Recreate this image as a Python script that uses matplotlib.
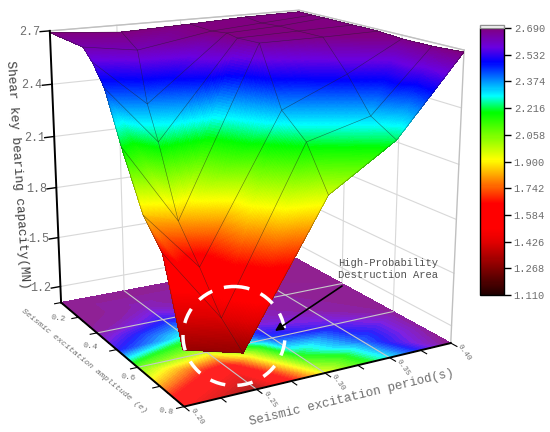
import numpy as np
import matplotlib
matplotlib.use('Agg')
import matplotlib.pyplot as plt
from matplotlib.colors import LinearSegmentedColormap, Normalize
from matplotlib.cm import ScalarMappable
from matplotlib.patches import Ellipse, Rectangle
from matplotlib.tri import Triangulation, UniformTriRefiner, LinearTriInterpolator
from mpl_toolkits.mplot3d import proj3d

# Floor contour map
periods = [0.20, 0.25, 0.30, 0.35, 0.40]
amplitudes = [0.2, 0.3, 0.4, 0.5, 0.6, 0.7, 0.8]
floor_capacity = [
    [2.69, 2.69, 2.69, 2.69, 2.69],
    [2.69, 2.64, 2.68, 2.69, 2.69],
    [2.66, 2.50, 2.65, 2.67, 2.69],
    [2.50, 2.28, 2.60, 2.66, 2.68],
    [2.08, 1.95, 2.45, 2.54, 2.67],
    [1.80, 1.50, 2.18, 2.42, 2.66],
    [1.50, 1.30, 1.92, 2.29, 2.69],
]

# Surface mesh nodes
surf_period = [
    [.211, .242, .321, .366, .400],
    [.228, .239, .315, .358, .400],
    [.217, .244, .309, .357, .400],
    [.210, .237, .317, .357, .400],
    [.213, .232, .306, .352, .400],
    [.213, .234, .305, .352, .400],
    [.212, .243, .300, .348, .400],
    [.200, .244, .301, .352, .400],
]
surf_amp = [
    [.731, .792, .704, .734, .800],
    [.543, .725, .650, .679, .700],
    [.529, .608, .586, .598, .600],
    [.482, .561, .455, .506, .516],
    [.385, .509, .423, .433, .422],
    [.327, .449, .383, .357, .309],
    [.288, .349, .345, .302, .257],
    [.200, .265, .239, .209, .200],
]
surf_capacity = [
    [1.308, 1.300, 1.959, 2.225, 2.690],
    [1.640, 1.427, 2.216, 2.331, 2.680],
    [1.852, 1.594, 2.357, 2.518, 2.680],
    [2.194, 1.818, 2.655, 2.681, 2.690],
    [2.457, 2.216, 2.677, 2.690, 2.690],
    [2.571, 2.385, 2.690, 2.690, 2.690],
    [2.637, 2.624, 2.690, 2.690, 2.690],
    [2.690, 2.690, 2.690, 2.690, 2.690],
]
z_ticks = [1.2, 1.5, 1.8, 2.1, 2.4, 2.7]
amp_ticks = [0.2, 0.4, 0.6, 0.8]
cbar_ticks = [1.110, 1.268, 1.426, 1.584, 1.742, 1.900, 2.058, 2.216, 2.374, 2.532, 2.690]

zmin, zmax = 1.11, 2.69
stops = [(1.11, '#200000'), (1.42, '#e00000'), (1.50, '#ff0000'), (1.65, '#ff0000'), (1.78, '#ff8000'),
         (1.91, '#ffff00'), (2.19, '#00ff00'), (2.29, '#00ffff'), (2.49, '#0000ff'), (2.58, '#6a00e0'),
         (2.69, '#800080')]
cmap = LinearSegmentedColormap.from_list('origin', [((v - zmin) / (zmax - zmin), c) for v, c in stops], N=256)
# floor map is the same colours a bit washed out
floor_cmap = LinearSegmentedColormap.from_list('floor', cmap(np.linspace(0, 1, 256)) * .87 + .13, N=256)
norm = Normalize(zmin, zmax)
font = 'Liberation Mono'
gray = '#6e6e6e'
W, H = 550, 432

fig = plt.figure(figsize=(W / 100, H / 100), dpi=100)
ax = fig.add_axes([-5.5 / W, -7.0 / H, 494.0 / W, 494.0 / H], projection='3d')
ax.set_xlim(0.2, 0.4, view_margin=0)
ax.set_ylim(0.8, 0.2, view_margin=0)
ax.set_zlim(1.1, 2.7, view_margin=0)
ax.view_init(elev=15.847, azim=-119.317)
ax.set_proj_type('persp', focal_length=0.491)
ax.set_box_aspect((1, 0.996, 0.993))
ax.set_axis_off()
ax.patch.set_alpha(0)
ax.computed_zorder = False
ax.apply_aspect()


def to_px(x, y, z):
    a, b, _ = proj3d.proj_transform(x, y, z, ax.get_proj())
    q = ax.transData.transform([[a, b]])[0]
    return q[0], H - q[1]


# floor field, refined linearly so contourf has smooth bands
X, Y = np.meshgrid(periods, amplitudes)
F = np.array(floor_capacity)
tri = Triangulation(X.ravel(), Y.ravel())
tri_f, f_f = UniformTriRefiner(tri).refine_field(F.ravel(), triinterpolator=LinearTriInterpolator(tri, F.ravel()), subdiv=3)

# surface refined in node index space since the nodes are irregular
SP, SA, SZ = np.array(surf_period), np.array(surf_amp), np.array(surf_capacity)
U, V = np.meshgrid(np.arange(SP.shape[1], dtype=float), np.arange(SP.shape[0], dtype=float))
itri = Triangulation(U.ravel(), V.ravel())
ref = UniformTriRefiner(itri)
fine = {}
for name, arr in [('x', SP), ('y', SA), ('z', SZ)]:
    fine_tri, fine[name] = ref.refine_field(arr.ravel(), triinterpolator=LinearTriInterpolator(itri, arr.ravel()), subdiv=6)

# walls
grid = '#d8d8d8'
for z in z_ticks:
    ax.plot([.2, .4], [.2, .2], [z, z], color=grid, lw=.8, zorder=1)
    ax.plot([.4, .4], [.2, .8], [z, z], color=grid, lw=.8, zorder=1)
for x in periods[1:-1]:
    ax.plot([x, x], [.2, .2], [1.1, 2.7], color=grid, lw=.8, zorder=1)
for y in [.4, .6]:
    ax.plot([.4, .4], [y, y], [1.1, 2.7], color=grid, lw=.8, zorder=1)
ax.plot([.4, .4], [.8, .8], [1.1, 2.7], color='#c0c0c0', lw=1, zorder=1)
ax.plot([.2, .4, .4], [.2, .2, .8], [2.7, 2.7, 2.7], color='#c0c0c0', lw=1, zorder=1)

# floor map
ax.tricontourf(tri_f, f_f, levels=np.linspace(zmin, zmax, 80), zdir='z', offset=1.1, cmap=floor_cmap, norm=norm,
               zorder=3, extend='both', antialiased=False)
for x in periods[1:-1]:
    ax.plot([x, x], [.2, .8], [1.1, 1.1], color='#c8c8c8', lw=.8, zorder=4)
for y in [.4, .6]:
    ax.plot([.2, .4], [y, y], [1.1, 1.1], color='#c8c8c8', lw=.8, zorder=4)

# surface and its mesh
ax.plot_trisurf(fine['x'], fine['y'], fine['z'], triangles=fine_tri.triangles, cmap=cmap, norm=norm,
                linewidth=0, antialiased=False, zorder=5)
ax.plot_wireframe(SP, SA, SZ, color='#202020', lw=.4, alpha=.6, zorder=6)

# axis lines
ax.plot([.2, .2], [.2, .2], [1.1, 2.7], color='k', lw=1.4, zorder=7)
ax.plot([.2, .2, .4], [.2, .8, .8], [1.1, 1.1, 1.1], color='k', lw=1.4, zorder=7)
for z in z_ticks:
    ax.plot([.2, .193], [.2, .2], [z, z], color='k', lw=1, zorder=7)
for y in amplitudes:
    ax.plot([.2, .195], [y, y], [1.1, 1.1], color='k', lw=.8, zorder=7)
for x in np.arange(.2, .401, .025):
    ax.plot([x, x], [.8, .82], [1.1, 1.1], color='k', lw=.8, zorder=7)

# colour bar
cax = fig.add_axes([480 / W, (H - 295) / H, 24 / W, 267 / H])
cb = fig.colorbar(ScalarMappable(norm=norm, cmap=cmap), cax=cax, ticks=cbar_ticks)
cb.ax.set_yticklabels([f'{v:.3f}' for v in cbar_ticks], family=font, color=gray, fontsize=7.5)
cb.ax.tick_params(length=5, width=1, pad=2)
cb.outline.set_linewidth(1)

# overlay in picture pixels
ov = fig.add_axes([0, 0, 1, 1], facecolor='none')
ov.set_xlim(0, W)
ov.set_ylim(H, 0)
ov.axis('off')
for z in z_ticks:
    a, b = to_px(.193, .2, z)
    ov.text(a, b, f'{z:.1f}', family=font, color=gray, fontsize=8.5, ha='right', va='center')
for y, dx, dy in zip(amp_ticks, [-3, -7, -10, -18], [16, 14, 10, 5]):
    a, b = to_px(.2, y, 1.1)
    ov.text(a + dx, b + dy, f'{y:.1f}', family=font, color=gray, fontsize=6, rotation=-8, ha='center', va='center')
for x in periods:
    a, b = to_px(x, .8, 1.1)
    ov.text(a + 13, b + 10, f'{x:.2f}', family=font, color=gray, fontsize=5.5, rotation=-55, ha='center', va='center')
ov.add_patch(Rectangle((480, 25), 24, 3, fc='w', ec='#909090', lw=1))
ov.add_patch(Ellipse((234, 336), 102, 99, fill=False, ec='w', lw=2.5, ls=(0, (4.5, 3.5))))
ov.annotate('', xy=(275, 331), xytext=(342, 286), arrowprops=dict(arrowstyle='-|>', color='k', lw=1.2, mutation_scale=12, shrinkA=0, shrinkB=0))
ov.text(338, 269, 'High-Probability\nDestruction Area', family=font, color='#505050', fontsize=7.6, va='center', linespacing=1.25)
ov.text(17, 175, 'Shear key bearing capacity(MN)', family=font, color='#404040', fontsize=9.2, rotation=-86.3, ha='center', va='center')
ov.text(84, 361, 'Seismic excitation amplitude (e)', family=font, style='italic', color=gray, fontsize=6, rotation=-39.4, ha='center', va='center')
ov.text(352, 397, 'Seismic excitation period(s)', family=font, color=gray, fontsize=9, rotation=13.6, ha='center', va='center')

fig.savefig('out.png', dpi=100)
